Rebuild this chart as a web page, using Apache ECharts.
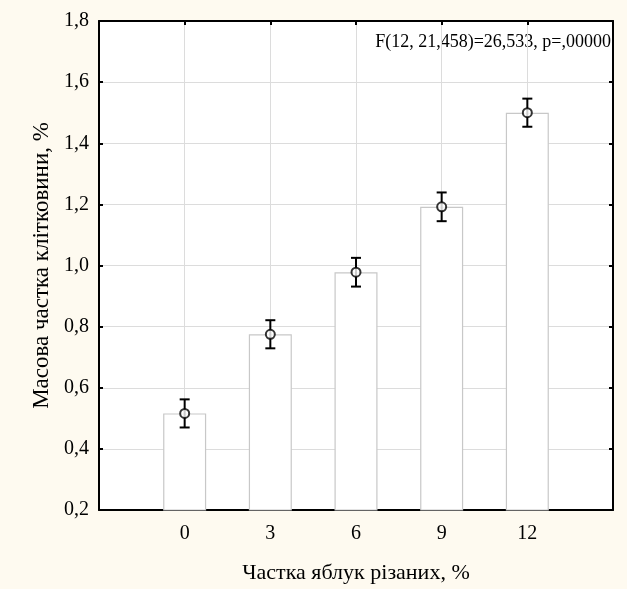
<!DOCTYPE html>
<html><head><meta charset="utf-8">
<script src="https://cdn.jsdelivr.net/npm/echarts@6/dist/echarts.min.js"></script>
<style>html,body{margin:0;padding:0;background:#fefaf0}#c{width:627px;height:589px}</style>
</head><body><div id="c"></div>
<script>
const categories = [0, 3, 6, 9, 12];
const means = [0.516, 0.775, 0.978, 1.192, 1.500];
const errors = [0.046, 0.046, 0.047, 0.047, 0.046];
const statText = 'F(12, 21,458)=26,533, p=,00000';
const xName = 'Частка яблук різаних, %';
const yName = 'Масова частка клітковини, %';

const font = '"Liberation Serif", "DejaVu Serif", serif';
const chart = echarts.init(document.getElementById('c'));
const barData = categories.map((c, i) => [c, means[i]]);
const errData = categories.map((c, i) => [c, means[i] - errors[i], means[i] + errors[i]]);

const fmtY = v => v.toFixed(1).replace('.', ',');

chart.setOption({
  backgroundColor: '#fefaf0',
  animation: false,
  grid: { left: 99, right: 14, top: 21, bottom: 75, show: true, backgroundColor: '#fff', borderWidth: 0 },
  xAxis: [{
    type: 'value', min: -3, max: 15, interval: 3,
    name: xName, nameLocation: 'middle', nameGap: 52,
    nameTextStyle: { fontFamily: font, fontSize: 22, color: '#000' },
    axisLine: { show: true, onZero: false, lineStyle: { color: '#000', width: 2 } },
    axisTick: { show: true, inside: true, length: 4, lineStyle: { color: '#000', width: 2 } },
    axisLabel: { fontFamily: font, fontSize: 20, color: '#000', margin: 14,
      formatter: v => categories.includes(v) ? String(v) : '' },
    splitLine: { show: true, lineStyle: { color: '#dcdcdc', width: 1 } }
  }, {
    type: 'value', min: -3, max: 15, interval: 3, position: 'top',
    axisLine: { show: true, onZero: false, lineStyle: { color: '#000', width: 2 } },
    axisTick: { show: true, inside: true, length: 4, lineStyle: { color: '#000', width: 2 } },
    axisLabel: { show: false }, splitLine: { show: false }
  }],
  yAxis: [{
    type: 'value', min: 0.2, max: 1.8, interval: 0.2,
    name: yName, nameLocation: 'middle', nameGap: 46,
    nameTextStyle: { fontFamily: font, fontSize: 23, color: '#000' },
    axisLine: { show: true, onZero: false, lineStyle: { color: '#000', width: 2 } },
    axisTick: { show: true, inside: true, length: 4, lineStyle: { color: '#000', width: 2 } },
    axisLabel: { fontFamily: font, fontSize: 20, color: '#000', margin: 10, formatter: fmtY },
    splitLine: { show: true, lineStyle: { color: '#dcdcdc', width: 1 } }
  }, {
    type: 'value', min: 0.2, max: 1.8, interval: 0.2, position: 'right',
    axisLine: { show: true, onZero: false, lineStyle: { color: '#000', width: 2 } },
    axisTick: { show: true, inside: true, length: 4, lineStyle: { color: '#000', width: 2 } },
    axisLabel: { show: false }, splitLine: { show: false }
  }],
  graphic: [{
    type: 'text', right: 16, top: 33,
    style: { text: statText, fontFamily: font, fontSize: 18, fill: '#000' }
  }],
  series: [{
    type: 'bar', data: barData, barWidth: 43, z: 2,
    itemStyle: { color: '#fff', borderColor: '#c8c8c8', borderWidth: 1.2 }
  }, {
    type: 'custom', data: errData, z: 3,
    renderItem: (params, api) => {
      const x = api.value(0);
      const p1 = api.coord([x, api.value(2)]);
      const p2 = api.coord([x, api.value(1)]);
      const w = 5;
      const st = { stroke: '#000', lineWidth: 2 };
      return { type: 'group', children: [
        { type: 'line', shape: { x1: p1[0], y1: p1[1], x2: p2[0], y2: p2[1] }, style: st },
        { type: 'line', shape: { x1: p1[0] - w, y1: p1[1], x2: p1[0] + w, y2: p1[1] }, style: st },
        { type: 'line', shape: { x1: p2[0] - w, y1: p2[1], x2: p2[0] + w, y2: p2[1] }, style: st }
      ]};
    }
  }, {
    type: 'scatter', data: barData, z: 4, symbol: 'circle', symbolSize: 9,
    itemStyle: { color: '#fff', borderColor: '#000', borderWidth: 2 }
  }]
});
</script></body></html>
